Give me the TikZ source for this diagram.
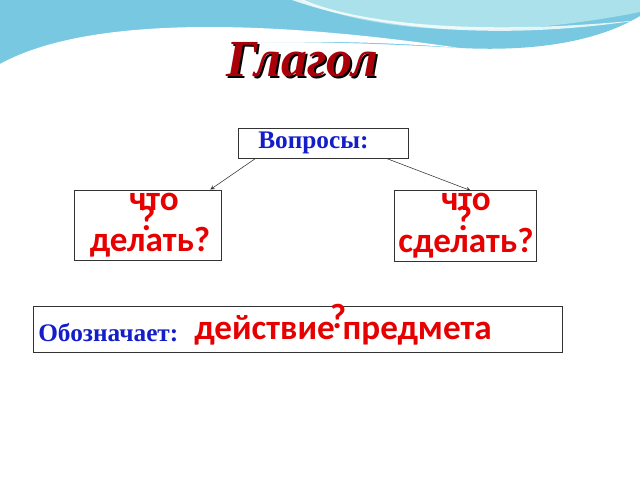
\documentclass[tikz,border=0pt]{standalone}
\usepackage{fontspec}
\setmainfont{Liberation Serif}
\newfontfamily\redfont{Carlito}
\usetikzlibrary{shadows}
\definecolor{wave}{RGB}{120,200,225}
\definecolor{wavelight}{RGB}{170,225,235}
\definecolor{titlered}{RGB}{170,0,10}
\definecolor{qblue}{RGB}{20,30,200}
\definecolor{wred}{RGB}{230,0,0}
\tikzset{
  box/.style={draw=black!80,fill=white,line width=0.6pt},
  redtxt/.style={font=\redfont\bfseries\fontsize{25}{24}\selectfont,text=wred,inner sep=0pt},
  bluetxt/.style={font=\bfseries\fontsize{18}{19}\selectfont,text=qblue,inner sep=0pt}
}
\begin{document}
\begin{tikzpicture}
\useasboundingbox (0,0) rectangle (16,12);
% top waves
\fill[wave] (0,12) -- (0,10.4) .. controls (4,11.1) and (8,11.0) .. (11.5,10.8) .. controls (13.5,10.7) and (15,11) .. (16,11.6) -- (16,12) -- cycle;
\fill[white] (0,10.4) .. controls (2,11.5) and (6,11.6) .. (11.5,10.8) .. controls (8,11.1) and (3,11.0) .. (0,10.2) -- cycle;
\fill[wavelight] (7.5,12) .. controls (9,11.3) and (12,10.9) .. (16,11.7) -- (16,12) -- cycle;
\fill[white,opacity=0.8] (7.3,12) .. controls (9,11.4) and (12,10.9) .. (16,11.5) .. controls (12,11.1) and (9,11.4) .. (7.6,12) -- cycle;
% title
\node[font=\bfseries\itshape\fontsize{37}{40}\selectfont,text=black] at (7.6,10.46) {Глагол};
\node[font=\bfseries\itshape\fontsize{37}{40}\selectfont,text=titlered] (title) at (7.55,10.51) {Глагол};
% boxes
\node[box,minimum width=4.25cm,minimum height=0.75cm] (q) at (8.075,8.425) {};
\node[bluetxt,anchor=west] (qt) at (6.45,8.42) {Вопросы:};
\node[box,minimum width=3.675cm,minimum height=1.75cm] (b1) at (3.71,6.375) {};
\node[box,minimum width=3.55cm,minimum height=1.775cm] (b2) at (11.625,6.34) {};
\node[box,minimum width=13.225cm,minimum height=1.15cm] (b3) at (7.44,3.775) {};
% red texts
\node[redtxt] (c1) at (3.85,6.95) {что};
\node[redtxt] (c1q) at (3.68,6.55) {?};
\node[redtxt] (d1) at (3.75,5.95) {делать?};
\node[redtxt] (c2) at (11.65,6.95) {что};
\node[redtxt] (c2q) at (11.6,6.55) {?};
\node[redtxt] (d2) at (11.65,5.92) {сделать?};
\node[bluetxt,anchor=west] (o) at (0.95,3.68) {Обозначает:};
\node[redtxt,anchor=west] (act) at (4.85,3.75) {действие предмета};
\node[redtxt] (aq) at (8.45,4.1) {?};
% arrows
\draw[-stealth,black!80] (q.south west) ++(0.45,0) -- ([xshift=-0.3cm]b1.north east);
\draw[-stealth,black!80] (q.south east) ++(-0.55,0) -- ([xshift=-1.65cm]b2.north east);
\end{tikzpicture}
\end{document}
